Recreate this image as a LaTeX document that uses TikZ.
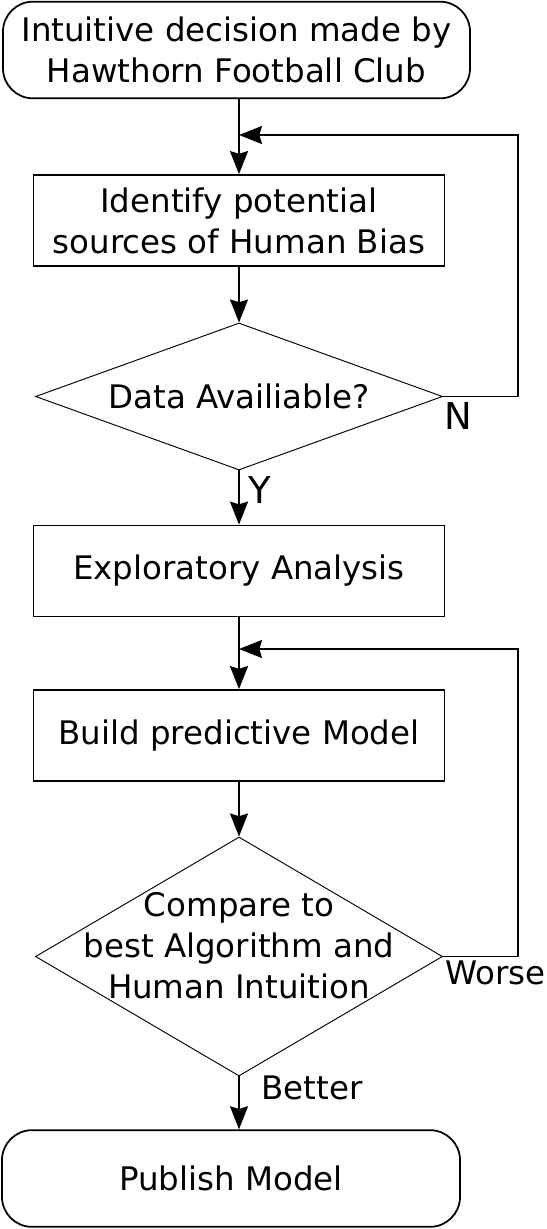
\documentclass[tikz,border=0pt]{standalone}
\usepackage{fontspec}
\setmainfont{DejaVu Sans}
\usetikzlibrary{shapes.geometric,arrows.meta}

\begin{document}
\begin{tikzpicture}
  [x=0.03cm,y=-0.03cm,
   every node/.style={font=\fontsize{27.7}{35}\selectfont,align=center,inner sep=0pt},
   terminal/.style={draw,line width=1.5pt,rounded corners=0.9cm,minimum height=2.9cm},
   process/.style={draw,line width=1.5pt,minimum width=12.33cm,minimum height=2.73cm},
   decision/.style={draw,diamond,line width=0.8pt,minimum width=12.21cm},
   flow/.style={line width=1.5pt,-{Stealth[length=0.69cm,width=0.54cm,inset=0.08cm]}},
   tag/.style={font=\fontsize{31.6}{34}\selectfont}]
  \useasboundingbox (0,0) rectangle (546,1229);

  \node[terminal,minimum width=14.01cm] (start) at (236.5,50) {Intuitive decision made by\\Hawthorn Football Club};
  \node[process] (bias) at (239,220.5) {Identify potential\\sources of Human Bias};
  \node[decision,minimum height=4.41cm] (data) at (239,396.5) {};
  \node (datatext) at (data) {Data Availiable?};
  \node[process] (explore) at (239,571) {Exploratory Analysis};
  \node[process] (model) at (239,735.5) {Build predictive Model};
  \node[decision,minimum height=7.17cm] (compare) at (239,956.5) {};
  \node (comparetext) at (239,946) {Compare to\\best Algorithm and\\Human Intuition};
  \node[terminal,minimum width=13.74cm] (publish) at (231,1178.5) {Publish Model};

  \coordinate (loop1) at (239,135);
  \coordinate (loop2) at (239,649);

  \draw[flow] (start.south -| bias.north) -- (bias.north);
  \draw[flow] (bias.south) -- (data.north);
  \draw[flow] (data.south) -- (explore.north);
  \draw[flow] (explore.south) -- (model.north);
  \draw[flow] (model.south) -- (compare.north);
  \draw[flow] (compare.south) -- (publish.north -| compare.south);

  \draw[flow] (data.east) -- ++(75,0) |- (loop1);
  \draw[flow] (compare.east) -- ++(75,0) |- (loop2);

  \node[tag] (no) at (458,416) {N};
  \node[tag] (yes) at (260,490) {Y};
  \node[anchor=west] (worse) at (445,973) {Worse};
  \node (better) at (312,1088) {Better};
\end{tikzpicture}
\end{document}
